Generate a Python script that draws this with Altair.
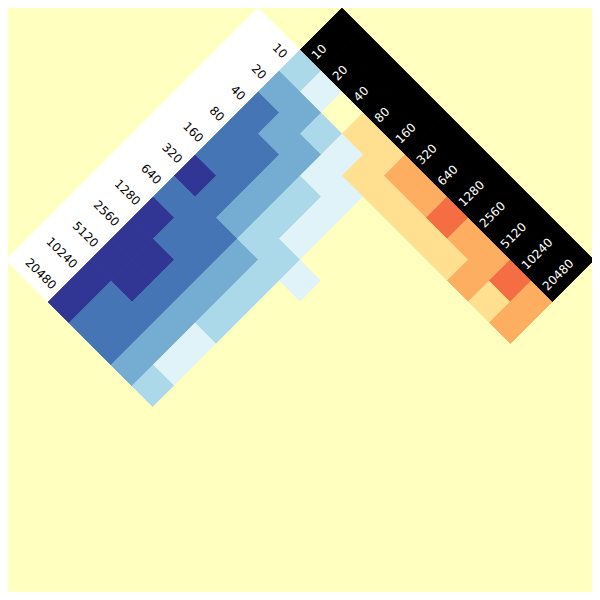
import altair as alt
import pandas as pd

# axis labels (same for rows and columns)
sizes = ["10", "20", "40", "80", "160", "320", "640", "1280", "2560", "5120", "10240", "20480"]

# colour level of every cell, one list per row (row = white-band label, col = black-band label)
# 5..1 = blue classes, 0 = neutral, -1..-3 = orange/red classes
row_10 = [2, 1, 0, -1, -1, -2, -2, -3, -2, -2, -3, -2]
row_20 = [3, 3, 2, 1, -1, -1, -1, -1, -1, -2, -1, -2]
row_40 = [4, 3, 3, 1, 1, 0, 0, 0, 0, 0, 0, 0]
row_80 = [4, 4, 3, 2, 1, 0, 0, 0, 0, 0, 0, 0]
row_160 = [4, 4, 3, 2, 1, 0, 0, 0, 0, 0, 0, 0]
row_320 = [5, 4, 3, 2, 2, 1, 0, 0, 0, 0, 0, 0]
row_640 = [4, 4, 4, 3, 2, 0, 0, 0, 0, 0, 0, 0]
row_1280 = [5, 4, 4, 3, 2, 0, 0, 0, 0, 0, 0, 0]
row_2560 = [5, 5, 4, 3, 2, 0, 0, 0, 0, 0, 0, 0]
row_5120 = [5, 5, 4, 3, 1, 0, 0, 0, 0, 0, 0, 0]
row_10240 = [5, 4, 4, 3, 1, 0, 0, 0, 0, 0, 0, 0]
row_20480 = [5, 4, 4, 3, 2, 0, 0, 0, 0, 0, 0, 0]
levels = [row_10, row_20, row_40, row_80, row_160, row_320, row_640,
          row_1280, row_2560, row_5120, row_10240, row_20480]

level_domain = [-3, -2, -1, 0, 1, 2, 3, 4, 5]
level_colors = ["#f46d43", "#fdae61", "#fee090", "#ffffbf", "#e0f3f8",
                "#abd9e9", "#74add1", "#4575b4", "#313695"]

n = len(sizes)
cells = pd.DataFrame([{"r": r, "c": c, "level": levels[r][c]}
                      for r in range(n) for c in range(n)])
white_band = pd.DataFrame([{"r": r, "c": c} for r in range(n) for c in (-2, -1)])
black_band = pd.DataFrame([{"r": r, "c": c} for r in (-2, -1) for c in range(n)])
labels = pd.DataFrame({"i": list(range(n)), "label": sizes})

U = 292 / 21
xs = alt.Scale(domain=[-U, U], nice=False, zero=False)
ys = alt.Scale(domain=[-2, -2 + 2 * U], nice=False, zero=False, reverse=True)
X = alt.X("u:Q", scale=xs, axis=None)
Y = alt.Y("v:Q", scale=ys, axis=None)
SIZE = 42 * 42


def diamonds(df):
    return alt.Chart(df).transform_calculate(
        u="datum.c - datum.r", v="datum.r + datum.c + 1"
    )


band_w = diamonds(white_band).mark_point(
    shape="diamond", filled=True, size=SIZE, fill="white", stroke="white",
    strokeWidth=0.8, opacity=1
).encode(x=X, y=Y)

band_b = diamonds(black_band).mark_point(
    shape="diamond", filled=True, size=SIZE, fill="black", stroke="black",
    strokeWidth=0.8, opacity=1
).encode(x=X, y=Y)

cscale = alt.Scale(domain=level_domain, range=level_colors)
heat = diamonds(cells).mark_point(
    shape="diamond", filled=True, size=SIZE, strokeWidth=0.8, opacity=1
).encode(
    x=X, y=Y,
    fill=alt.Fill("level:O", scale=cscale, legend=None),
    stroke=alt.Stroke("level:O", scale=cscale, legend=None),
)

row_text = alt.Chart(labels).transform_calculate(
    u="-0.2 - (datum.i + 0.5)", v="datum.i + 0.5 - 0.2"
).mark_text(
    angle=45, align="right", baseline="middle", font="DejaVu Sans",
    fontSize=12, color="black"
).encode(x=X, y=Y, text="label:N")

col_text = alt.Chart(labels).transform_calculate(
    u="datum.i + 0.5 + 0.15", v="datum.i + 0.5 - 0.15"
).mark_text(
    angle=315, align="left", baseline="middle", font="DejaVu Sans",
    fontSize=12, color="white"
).encode(x=X, y=Y, text="label:N")

chart = alt.layer(band_w, band_b, heat, row_text, col_text).properties(
    width=584, height=584, background="#ffffbf", padding=0, autosize="none"
).configure_view(stroke=None)

chart.save("out.html", embed_options={"renderer": "svg", "actions": False})
